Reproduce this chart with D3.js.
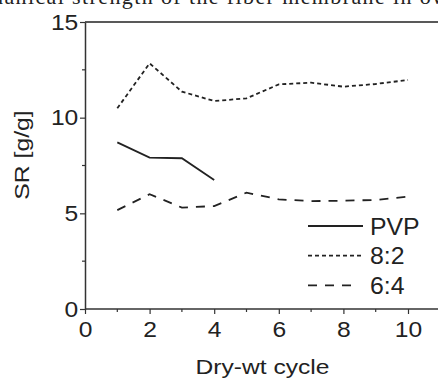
<!DOCTYPE html>
<html>
<head>
<meta charset="utf-8">
<script src="https://cdn.jsdelivr.net/npm/d3@7"></script>
<style>
  body { margin: 0; background: #fff; }
  svg { display: block; }
</style>
</head>
<body>
<script>
// data
var cycles = [1, 2, 3, 4, 5, 6, 7, 8, 9, 10];
var pvp = [8.71, 7.91, 7.88, 6.74];
var r82 = [10.49, 12.84, 11.36, 10.87, 11.01, 11.74, 11.83, 11.62, 11.76, 11.97];
var r64 = [5.17, 6.0, 5.3, 5.38, 6.08, 5.73, 5.64, 5.66, 5.7, 5.87];
var seriesNames = ["PVP", "8:2", "6:4"];
var xTicks = [0, 2, 4, 6, 8, 10];
var yTicks = [0, 5, 10, 15];

var width = 438, height = 379;
var stretch = "scale(1.12,1)";

var xScale = d3.scaleLinear().domain([0, 11]).range([85, 440.3]);
var yScale = d3.scaleLinear().domain([0, 15]).range([309, 22]);

var svg = d3.select("body").append("svg")
    .attr("width", width)
    .attr("height", height)
    .style("font-family", "'Liberation Sans', Arial, sans-serif");

// caption of the page, cut by the top edge
svg.append("text")
    .attr("x", -8)
    .attr("y", 4)
    .attr("font-family", "'Liberation Serif', 'Times New Roman', serif")
    .attr("font-size", 22)
    .attr("textLength", 456)
    .attr("fill", "#222")
    .text("hanical strength of the fiber membrane in ow");

// top frame line at y = 15
svg.append("line")
    .attr("x1", xScale(0)).attr("x2", width)
    .attr("y1", yScale(15)).attr("y2", yScale(15))
    .attr("stroke", "#222")
    .attr("stroke-width", 1.5);

// minor ticks
svg.selectAll(".xminor")
    .data([1, 3, 5, 7, 9])
    .enter().append("line")
    .attr("x1", function(d) { return xScale(d); })
    .attr("x2", function(d) { return xScale(d); })
    .attr("y1", yScale(0)).attr("y2", yScale(0) + 3)
    .attr("stroke", "#333").attr("stroke-width", 1.2);

svg.selectAll(".yminor")
    .data([2.5, 7.5, 12.5])
    .enter().append("line")
    .attr("x1", xScale(0) - 3).attr("x2", xScale(0))
    .attr("y1", function(d) { return yScale(d); })
    .attr("y2", function(d) { return yScale(d); })
    .attr("stroke", "#333").attr("stroke-width", 1.2);

var xAxis = svg.append("g")
    .attr("transform", "translate(0," + yScale(0) + ")")
    .call(d3.axisBottom(xScale).tickValues(xTicks).tickSize(5).tickPadding(7).tickSizeOuter(0));

var yAxis = svg.append("g")
    .attr("transform", "translate(" + xScale(0) + ",0)")
    .call(d3.axisLeft(yScale).tickValues(yTicks).tickSize(5).tickPadding(1).tickSizeOuter(0));

[xAxis, yAxis].forEach(function(ax) {
    ax.select(".domain").attr("stroke", "#333").attr("stroke-width", 1.5);
    ax.selectAll(".tick line").attr("stroke", "#333").attr("stroke-width", 1.2);
    ax.selectAll(".tick text")
        .attr("font-family", "'Liberation Sans', Arial, sans-serif")
        .attr("font-size", 22)
        .attr("fill", "#222")
        .attr("transform", stretch);
});
xAxis.select(".domain").attr("d", "M" + xScale(0) + ",0H" + width);

// axis titles
svg.append("text")
    .attr("transform", "translate(262.5,373.5) scale(1.2,1)")
    .attr("text-anchor", "middle")
    .attr("font-size", 20.5)
    .attr("fill", "#222")
    .text("Dry-wt cycle");

svg.append("text")
    .attr("transform", "translate(29,155) rotate(-90) scale(1.18,1)")
    .attr("text-anchor", "middle")
    .attr("font-size", 21)
    .attr("fill", "#222")
    .text("SR [g/g]");

var line = d3.line()
    .x(function(d) { return xScale(d.x); })
    .y(function(d) { return yScale(d.y); });

var dashes = ["none", "4,3", "9,8"];
var seriesData = [pvp, r82, r64].map(function(vals) {
    return vals.map(function(v, i) { return { x: cycles[i], y: v }; });
});

svg.selectAll(".series")
    .data(seriesData)
    .enter().append("path")
    .attr("class", "series")
    .attr("d", line)
    .attr("fill", "none")
    .attr("stroke", "#222")
    .attr("stroke-width", 1.8)
    .attr("stroke-dasharray", function(d, i) { return dashes[i]; });

// legend
var legend = svg.selectAll(".legend")
    .data(seriesNames)
    .enter().append("g")
    .attr("transform", function(d, i) { return "translate(308," + (226 + i * 29.7) + ")"; });

legend.append("line")
    .attr("x1", 0).attr("x2", function(d, i) { return i === 2 ? 50 : 55; })
    .attr("y1", 0).attr("y2", 0)
    .attr("stroke", "#222")
    .attr("stroke-width", 1.8)
    .attr("stroke-dasharray", function(d, i) { return dashes[i]; });

legend.append("text")
    .attr("transform", "translate(62,8.5) scale(1.08,1)")
    .attr("font-size", 23)
    .attr("fill", "#222")
    .text(function(d) { return d; });
</script>
</body>
</html>
